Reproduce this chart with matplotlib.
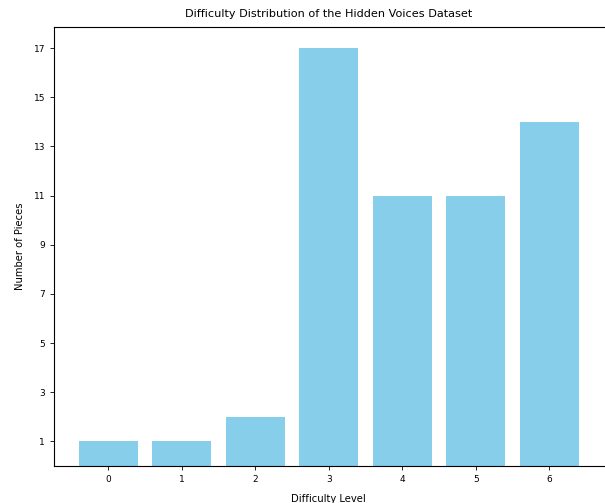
import matplotlib
matplotlib.use("Agg")
import matplotlib.pyplot as plt

levels = [0, 1, 2, 3, 4, 5, 6]
counts = [1, 1, 2, 17, 11, 11, 14]
yticks = [1, 3, 5, 7, 9, 11, 13, 15, 17]

fig = plt.figure(figsize=(6.05, 5.03), dpi=100)
ax = fig.add_axes([0.0893, 0.0736, 0.9085, 0.8725])
ax.bar(levels, counts, color="skyblue", width=0.8)
ax.set_xticks(levels)
ax.set_yticks(yticks)
ax.tick_params(labelsize=6.5, length=3, width=0.6)
ax.set_xlabel("Difficulty Level", fontsize=7.2, labelpad=7)
ax.set_ylabel("Number of Pieces", fontsize=7.2, labelpad=6)
ax.set_title("Difficulty Distribution of the Hidden Voices Dataset", fontsize=8.1, pad=7)
ax.spines["right"].set_visible(False)
for s in ax.spines.values():
    s.set_linewidth(0.8)
fig.savefig("out.png", dpi=100)
